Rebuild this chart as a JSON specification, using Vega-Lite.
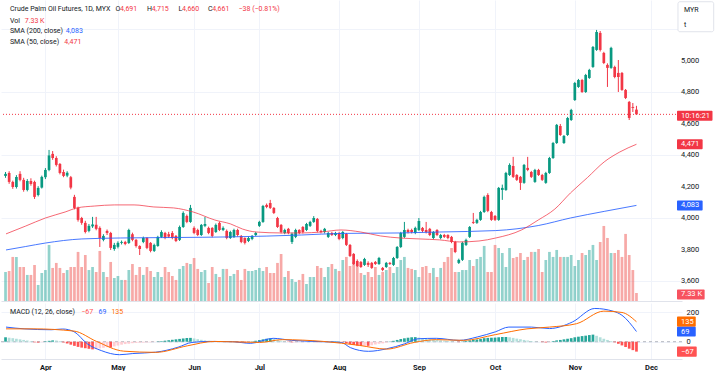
{
"$schema": "https://vega.github.io/schema/vega-lite/v6.json",
"padding": 0,
"background": "white",
"spacing": 2,
"config": {"view": {"stroke": null}, "font": "Roboto", "text": {"font": "Roboto"}, "axis": {"labelOverlap": false, "labelBound": false, "labelFlush": false}},
"datasets": {
"bars": [
{"i":-11,"o":4270,"h":4295,"l":4258,"c":4283,"v":26.6,"hs":30},
{"i":-10,"o":4289,"h":4300,"l":4220,"c":4232,"v":27.5,"hs":27},
{"i":-9,"o":4232,"h":4240,"l":4188,"c":4200,"v":40.4,"hs":24},
{"i":-8,"o":4200,"h":4275,"l":4190,"c":4264,"v":40.4,"hs":20},
{"i":-7,"o":4283,"h":4300,"l":4236,"c":4245,"v":31.2,"hs":16},
{"i":-6,"o":4245,"h":4258,"l":4170,"c":4181,"v":31.2,"hs":12},
{"i":-5,"o":4181,"h":4250,"l":4172,"c":4238,"v":23.9,"hs":8},
{"i":-4,"o":4238,"h":4255,"l":4208,"c":4219,"v":23.9,"hs":4},
{"i":-3,"o":4232,"h":4240,"l":4124,"c":4137,"v":33.0,"hs":-4},
{"i":-2,"o":4149,"h":4205,"l":4140,"c":4194,"v":14.7,"hs":-6},
{"i":-1,"o":4196,"h":4272,"l":4190,"c":4264,"v":25.7,"hs":-3},
{"i":0,"o":4262,"h":4320,"l":4250,"c":4308,"v":28.4,"hs":3},
{"i":1,"o":4308,"h":4435,"l":4300,"c":4400,"v":51.4,"hs":6},
{"i":2,"o":4410,"h":4428,"l":4372,"c":4384,"v":30.3,"hs":9},
{"i":3,"o":4384,"h":4395,"l":4330,"c":4340,"v":34.9,"hs":8},
{"i":4,"o":4346,"h":4352,"l":4280,"c":4289,"v":30.3,"hs":5},
{"i":5,"o":4295,"h":4310,"l":4262,"c":4270,"v":25.7,"hs":-5},
{"i":6,"o":4272,"h":4300,"l":4262,"c":4290,"v":28.4,"hs":-12},
{"i":7,"o":4262,"h":4270,"l":4185,"c":4196,"v":31.2,"hs":-20},
{"i":8,"o":4137,"h":4150,"l":4058,"c":4067,"v":31.2,"hs":-28},
{"i":9,"o":4067,"h":4075,"l":3980,"c":3991,"v":45.0,"hs":-35},
{"i":10,"o":4003,"h":4010,"l":3960,"c":3972,"v":31.2,"hs":-40},
{"i":11,"o":3972,"h":3985,"l":3905,"c":3914,"v":42.2,"hs":-44},
{"i":12,"o":3921,"h":3965,"l":3912,"c":3953,"v":28.4,"hs":-48},
{"i":13,"o":3950,"h":4010,"l":3940,"c":3962,"v":31.2,"hs":-52},
{"i":14,"o":3960,"h":4010,"l":3925,"c":3934,"v":26.6,"hs":-49},
{"i":15,"o":3940,"h":3950,"l":3819,"c":3876,"v":45.9,"hs":-45},
{"i":16,"o":3864,"h":3900,"l":3855,"c":3889,"v":26.6,"hs":-41},
{"i":17,"o":3921,"h":3930,"l":3895,"c":3908,"v":22.0,"hs":-37},
{"i":18,"o":3908,"h":3915,"l":3800,"c":3813,"v":35.8,"hs":-39},
{"i":19,"o":3806,"h":3845,"l":3795,"c":3832,"v":21.1,"hs":-32},
{"i":20,"o":3820,"h":3855,"l":3810,"c":3845,"v":22.9,"hs":-26},
{"i":21,"o":3845,"h":3860,"l":3835,"c":3851,"v":19.3,"hs":-20},
{"i":22,"o":3851,"h":3858,"l":3830,"c":3838,"v":19.3,"hs":-16},
{"i":23,"o":3845,"h":3935,"l":3838,"c":3927,"v":28.4,"hs":-13},
{"i":24,"o":3900,"h":3910,"l":3855,"c":3864,"v":33.9,"hs":-10},
{"i":25,"o":3864,"h":3870,"l":3815,"c":3825,"v":23.9,"hs":-8},
{"i":26,"o":3825,"h":3830,"l":3768,"c":3806,"v":31.2,"hs":-7},
{"i":27,"o":3851,"h":3885,"l":3843,"c":3876,"v":23.9,"hs":-6},
{"i":28,"o":3876,"h":3882,"l":3805,"c":3813,"v":31.2,"hs":-5},
{"i":29,"o":3845,"h":3850,"l":3785,"c":3794,"v":27.5,"hs":-4},
{"i":30,"o":3794,"h":3840,"l":3787,"c":3832,"v":22.0,"hs":-2},
{"i":31,"o":3825,"h":3890,"l":3820,"c":3883,"v":26.6,"hs":2},
{"i":32,"o":3883,"h":3925,"l":3876,"c":3914,"v":22.0,"hs":4},
{"i":33,"o":3908,"h":3915,"l":3868,"c":3876,"v":31.2,"hs":7},
{"i":34,"o":3900,"h":3915,"l":3876,"c":3885,"v":26.6,"hs":10},
{"i":35,"o":3908,"h":3920,"l":3868,"c":3876,"v":22.9,"hs":13},
{"i":36,"o":3889,"h":3895,"l":3850,"c":3857,"v":19.3,"hs":16},
{"i":37,"o":3864,"h":3955,"l":3857,"c":3946,"v":29.4,"hs":19},
{"i":38,"o":3946,"h":4045,"l":3940,"c":4035,"v":32.1,"hs":22},
{"i":39,"o":4016,"h":4025,"l":3970,"c":3978,"v":34.9,"hs":25},
{"i":40,"o":3978,"h":4086,"l":3972,"c":4067,"v":33.9,"hs":26},
{"i":41,"o":3940,"h":3950,"l":3900,"c":3908,"v":39.4,"hs":22},
{"i":42,"o":3927,"h":3935,"l":3888,"c":3895,"v":29.4,"hs":17},
{"i":43,"o":3895,"h":3965,"l":3889,"c":3959,"v":26.6,"hs":13},
{"i":44,"o":3953,"h":4010,"l":3945,"c":3965,"v":28.4,"hs":9},
{"i":45,"o":3940,"h":3948,"l":3900,"c":3908,"v":16.5,"hs":6},
{"i":46,"o":3940,"h":3945,"l":3880,"c":3889,"v":31.2,"hs":3},
{"i":47,"o":3914,"h":3968,"l":3908,"c":3959,"v":24.8,"hs":1},
{"i":48,"o":3972,"h":3980,"l":3920,"c":3927,"v":22.0,"hs":-1},
{"i":49,"o":3927,"h":3950,"l":3920,"c":3940,"v":29.4,"hs":-2},
{"i":50,"o":3921,"h":3930,"l":3868,"c":3876,"v":29.4,"hs":1},
{"i":51,"o":3876,"h":3922,"l":3870,"c":3914,"v":22.9,"hs":2},
{"i":52,"o":3883,"h":3935,"l":3876,"c":3927,"v":24.8,"hs":-2},
{"i":53,"o":3927,"h":3935,"l":3885,"c":3895,"v":28.4,"hs":-4},
{"i":54,"o":3889,"h":3895,"l":3843,"c":3851,"v":19.3,"hs":-6},
{"i":55,"o":3876,"h":3880,"l":3835,"c":3845,"v":29.4,"hs":-7},
{"i":56,"o":3857,"h":3885,"l":3850,"c":3876,"v":27.5,"hs":-5},
{"i":57,"o":3870,"h":3895,"l":3862,"c":3889,"v":27.5,"hs":2},
{"i":58,"o":3895,"h":3915,"l":3889,"c":3908,"v":28.4,"hs":6},
{"i":59,"o":3953,"h":3985,"l":3946,"c":3978,"v":30.3,"hs":11},
{"i":60,"o":3978,"h":4086,"l":3972,"c":4079,"v":27.5,"hs":16},
{"i":61,"o":4086,"h":4095,"l":4065,"c":4073,"v":31.2,"hs":20},
{"i":62,"o":4098,"h":4118,"l":4060,"c":4067,"v":25.7,"hs":22},
{"i":63,"o":4067,"h":4072,"l":4028,"c":4035,"v":25.7,"hs":18},
{"i":64,"o":4003,"h":4010,"l":3940,"c":3946,"v":34.9,"hs":12},
{"i":65,"o":3959,"h":3965,"l":3905,"c":3914,"v":43.1,"hs":6},
{"i":66,"o":3908,"h":3935,"l":3900,"c":3927,"v":22.0,"hs":2},
{"i":67,"o":3934,"h":3940,"l":3900,"c":3908,"v":27.5,"hs":-2},
{"i":68,"o":3851,"h":3910,"l":3838,"c":3902,"v":20.2,"hs":-4},
{"i":69,"o":3883,"h":3935,"l":3875,"c":3927,"v":17.4,"hs":-4},
{"i":70,"o":3927,"h":3932,"l":3900,"c":3908,"v":19.3,"hs":-3},
{"i":71,"o":3946,"h":3952,"l":3905,"c":3914,"v":24.8,"hs":-3},
{"i":72,"o":3927,"h":3972,"l":3920,"c":3965,"v":15.6,"hs":-2},
{"i":73,"o":3953,"h":3985,"l":3946,"c":3978,"v":22.0,"hs":-2},
{"i":74,"o":3978,"h":4015,"l":3972,"c":4003,"v":22.0,"hs":-1},
{"i":75,"o":3997,"h":4003,"l":3912,"c":3921,"v":32.1,"hs":-3},
{"i":76,"o":3921,"h":3928,"l":3905,"c":3914,"v":30.3,"hs":-2},
{"i":77,"o":3914,"h":3940,"l":3905,"c":3934,"v":22.0,"hs":-1},
{"i":78,"o":3883,"h":3915,"l":3876,"c":3908,"v":31.2,"hs":1},
{"i":79,"o":3908,"h":3915,"l":3889,"c":3895,"v":33.9,"hs":2},
{"i":80,"o":3895,"h":3915,"l":3888,"c":3908,"v":29.4,"hs":3},
{"i":81,"o":3908,"h":3915,"l":3862,"c":3870,"v":27.5,"hs":2},
{"i":82,"o":3876,"h":3920,"l":3868,"c":3914,"v":37.6,"hs":-3},
{"i":83,"o":3902,"h":3908,"l":3825,"c":3832,"v":40.4,"hs":-9},
{"i":84,"o":3832,"h":3838,"l":3755,"c":3762,"v":32.1,"hs":-16},
{"i":85,"o":3775,"h":3780,"l":3705,"c":3711,"v":35.8,"hs":-22},
{"i":86,"o":3730,"h":3740,"l":3692,"c":3699,"v":33.0,"hs":-26},
{"i":87,"o":3724,"h":3730,"l":3686,"c":3692,"v":25.7,"hs":-28},
{"i":88,"o":3705,"h":3750,"l":3699,"c":3743,"v":23.9,"hs":-27},
{"i":89,"o":3718,"h":3728,"l":3692,"c":3705,"v":26.6,"hs":-28},
{"i":90,"o":3718,"h":3724,"l":3680,"c":3686,"v":22.0,"hs":-24},
{"i":91,"o":3724,"h":3730,"l":3705,"c":3711,"v":31.2,"hs":-19},
{"i":92,"o":3711,"h":3756,"l":3705,"c":3749,"v":23.9,"hs":-14},
{"i":93,"o":3686,"h":3692,"l":3665,"c":3673,"v":26.6,"hs":-11},
{"i":94,"o":3692,"h":3724,"l":3686,"c":3718,"v":28.4,"hs":-6},
{"i":95,"o":3718,"h":3724,"l":3705,"c":3711,"v":31.2,"hs":2},
{"i":96,"o":3705,"h":3756,"l":3699,"c":3749,"v":25.7,"hs":6},
{"i":97,"o":3749,"h":3825,"l":3743,"c":3819,"v":31.2,"hs":12},
{"i":98,"o":3819,"h":3915,"l":3812,"c":3908,"v":37.6,"hs":18},
{"i":99,"o":3883,"h":3978,"l":3876,"c":3927,"v":40.4,"hs":23},
{"i":100,"o":3927,"h":3935,"l":3905,"c":3914,"v":30.3,"hs":27},
{"i":101,"o":3927,"h":3935,"l":3905,"c":3914,"v":29.4,"hs":30},
{"i":102,"o":3908,"h":3948,"l":3900,"c":3940,"v":28.4,"hs":31},
{"i":103,"o":3927,"h":4003,"l":3920,"c":3984,"v":22.0,"hs":28},
{"i":104,"o":3940,"h":3946,"l":3912,"c":3921,"v":31.2,"hs":24},
{"i":105,"o":3927,"h":3978,"l":3905,"c":3914,"v":32.1,"hs":20},
{"i":106,"o":3934,"h":3940,"l":3888,"c":3895,"v":25.7,"hs":16},
{"i":107,"o":3876,"h":3920,"l":3868,"c":3914,"v":30.3,"hs":13},
{"i":108,"o":3927,"h":3932,"l":3888,"c":3895,"v":22.0,"hs":11},
{"i":109,"o":3876,"h":3902,"l":3868,"c":3895,"v":30.3,"hs":9},
{"i":110,"o":3895,"h":3902,"l":3876,"c":3883,"v":35.8,"hs":7},
{"i":111,"o":3895,"h":3900,"l":3868,"c":3876,"v":40.4,"hs":5},
{"i":112,"o":3883,"h":3889,"l":3843,"c":3851,"v":48.6,"hs":3},
{"i":113,"o":3851,"h":3858,"l":3780,"c":3787,"v":26.6,"hs":1},
{"i":114,"o":3718,"h":3745,"l":3711,"c":3737,"v":26.6,"hs":-3},
{"i":115,"o":3737,"h":3852,"l":3730,"c":3845,"v":28.4,"hs":2},
{"i":116,"o":3832,"h":3872,"l":3825,"c":3864,"v":28.4,"hs":5},
{"i":117,"o":3883,"h":3952,"l":3876,"c":3946,"v":37.6,"hs":9},
{"i":118,"o":3978,"h":4035,"l":3965,"c":3972,"v":32.1,"hs":12},
{"i":119,"o":3972,"h":3998,"l":3965,"c":3991,"v":38.5,"hs":15},
{"i":120,"o":3991,"h":4048,"l":3985,"c":4041,"v":40.4,"hs":19},
{"i":121,"o":4041,"h":4145,"l":4035,"c":4137,"v":50.5,"hs":24},
{"i":122,"o":4149,"h":4160,"l":4040,"c":4048,"v":26.6,"hs":26},
{"i":123,"o":4041,"h":4048,"l":3985,"c":3991,"v":26.6,"hs":27},
{"i":124,"o":4016,"h":4022,"l":3984,"c":3991,"v":51.4,"hs":28},
{"i":125,"o":3991,"h":4200,"l":3985,"c":4194,"v":48.6,"hs":30},
{"i":126,"o":4181,"h":4215,"l":4118,"c":4194,"v":44.0,"hs":32},
{"i":127,"o":4181,"h":4296,"l":4175,"c":4289,"v":31.2,"hs":32},
{"i":128,"o":4276,"h":4350,"l":4270,"c":4340,"v":48.6,"hs":30},
{"i":129,"o":4333,"h":4391,"l":4257,"c":4264,"v":39.4,"hs":26},
{"i":130,"o":4276,"h":4282,"l":4238,"c":4245,"v":40.4,"hs":21},
{"i":131,"o":4264,"h":4270,"l":4181,"c":4226,"v":44.0,"hs":17},
{"i":132,"o":4226,"h":4346,"l":4220,"c":4340,"v":37.6,"hs":12},
{"i":133,"o":4321,"h":4391,"l":4300,"c":4308,"v":40.4,"hs":8},
{"i":134,"o":4295,"h":4302,"l":4257,"c":4264,"v":45.0,"hs":5},
{"i":135,"o":4232,"h":4315,"l":4226,"c":4308,"v":45.0,"hs":2},
{"i":136,"o":4308,"h":4315,"l":4270,"c":4276,"v":47.7,"hs":0.5},
{"i":137,"o":4276,"h":4283,"l":4238,"c":4245,"v":26.6,"hs":-3},
{"i":138,"o":4226,"h":4296,"l":4220,"c":4289,"v":37.6,"hs":-5},
{"i":139,"o":4289,"h":4391,"l":4283,"c":4384,"v":45.0,"hs":-3},
{"i":140,"o":4384,"h":4486,"l":4378,"c":4479,"v":40.4,"hs":4},
{"i":141,"o":4479,"h":4600,"l":4473,"c":4594,"v":46.8,"hs":9},
{"i":142,"o":4587,"h":4600,"l":4524,"c":4530,"v":40.4,"hs":12},
{"i":143,"o":4479,"h":4530,"l":4473,"c":4524,"v":40.4,"hs":16},
{"i":144,"o":4530,"h":4645,"l":4524,"c":4638,"v":40.4,"hs":20},
{"i":145,"o":4625,"h":4696,"l":4619,"c":4689,"v":42.2,"hs":24},
{"i":146,"o":4752,"h":4867,"l":4746,"c":4860,"v":32.1,"hs":30},
{"i":147,"o":4835,"h":4886,"l":4829,"c":4879,"v":37.6,"hs":34},
{"i":148,"o":4879,"h":4886,"l":4797,"c":4803,"v":44.0,"hs":38},
{"i":149,"o":4803,"h":4918,"l":4797,"c":4911,"v":42.2,"hs":41},
{"i":150,"o":4892,"h":4950,"l":4886,"c":4943,"v":46.8,"hs":45},
{"i":151,"o":4962,"h":5095,"l":4956,"c":5089,"v":51.4,"hs":48},
{"i":152,"o":5070,"h":5197,"l":5064,"c":5184,"v":37.6,"hs":40},
{"i":153,"o":5178,"h":5190,"l":5060,"c":5070,"v":54.1,"hs":30},
{"i":154,"o":5051,"h":5058,"l":4980,"c":4987,"v":68.8,"hs":20},
{"i":155,"o":4975,"h":4985,"l":4835,"c":4956,"v":57.8,"hs":12},
{"i":156,"o":4956,"h":5090,"l":4950,"c":5083,"v":44.0,"hs":5},
{"i":157,"o":4962,"h":4970,"l":4890,"c":4898,"v":44.0,"hs":-4},
{"i":158,"o":4924,"h":5006,"l":4803,"c":4898,"v":46.8,"hs":-14},
{"i":159,"o":4924,"h":4930,"l":4810,"c":4816,"v":40.4,"hs":-25},
{"i":160,"o":4816,"h":4822,"l":4758,"c":4765,"v":61.5,"hs":-36},
{"i":161,"o":4740,"h":4746,"l":4625,"c":4638,"v":42.2,"hs":-47},
{"i":162,"o":4708,"h":4733,"l":4676,"c":4702,"v":28.4,"hs":-57},
{"i":163,"o":4691,"h":4715,"l":4660,"c":4661,"v":7.33,"hs":-67}
],
"sma50": [
{"i":-10.87,"v":3902},{"i":-5.43,"v":3952},{"i":0,"v":4003},{"i":5.43,"v":4041},{"i":8.7,"v":4067},{"i":13.59,"v":4079},{"i":19.02,"v":4086},{"i":24.46,"v":4086},{"i":29.89,"v":4073},{"i":35.33,"v":4067},{"i":40.76,"v":4041},{"i":46.74,"v":3990},{"i":51.09,"v":3965},{"i":54.35,"v":3933},{"i":58.15,"v":3914},{"i":65.22,"v":3908},{"i":70.65,"v":3908},{"i":76.09,"v":3914},{"i":81.52,"v":3927},{"i":86.96,"v":3914},{"i":92.39,"v":3889},{"i":97.83,"v":3876},{"i":103.26,"v":3870},{"i":108.7,"v":3864},{"i":114.13,"v":3851},{"i":119.57,"v":3857},{"i":124.2,"v":3876},{"i":131.3,"v":3927},{"i":135.9,"v":3990},{"i":140.5,"v":4060},{"i":144.8,"v":4162},{"i":149.5,"v":4260},{"i":154.1,"v":4359},{"i":158.4,"v":4422},{"i":163,"v":4471}
],
"sma200": [
{"i":-10.87,"v":3800},{"i":-5.43,"v":3822},{"i":0,"v":3844},{"i":10.05,"v":3870},{"i":20.65,"v":3876},{"i":35.33,"v":3879},{"i":51.09,"v":3883},{"i":70.65,"v":3895},{"i":81.52,"v":3905},{"i":97.83,"v":3908},{"i":108.7,"v":3914},{"i":124.2,"v":3923},{"i":135.9,"v":3955},{"i":144.8,"v":4003},{"i":154.1,"v":4045},{"i":163,"v":4083}
],
"macd": [
{"i":-10.87,"v":99},{"i":-5.87,"v":87},{"i":1.63,"v":81},{"i":4.75,"v":86},{"i":7.88,"v":68},{"i":11.6,"v":-15},{"i":15.4,"v":-60},{"i":20.4,"v":-88},{"i":24.1,"v":-80},{"i":30.4,"v":-71},{"i":36.6,"v":-37},{"i":40.4,"v":-5},{"i":45.4,"v":2},{"i":51.6,"v":0},{"i":56.6,"v":-11},{"i":62.8,"v":23},{"i":67.9,"v":9},{"i":76.6,"v":0},{"i":81.6,"v":-5},{"i":84.1,"v":-40},{"i":89.1,"v":-65},{"i":94.1,"v":-48},{"i":99.1,"v":-14},{"i":102.8,"v":20},{"i":107.8,"v":23},{"i":114.1,"v":9},{"i":119.1,"v":32},{"i":124.1,"v":67},{"i":127.8,"v":99},{"i":134,"v":99},{"i":139,"v":89},{"i":145.3,"v":133},{"i":151.5,"v":225},{"i":156.5,"v":207},{"i":159,"v":179},{"i":163,"v":69}
],
"signal": [
{"i":-10.87,"v":87},{"i":-3.4,"v":87},{"i":7.88,"v":72},{"i":14.1,"v":2},{"i":21.6,"v":-64},{"i":30.4,"v":-72},{"i":39.1,"v":-28},{"i":46.6,"v":2},{"i":59.1,"v":-5},{"i":65.3,"v":14},{"i":76.6,"v":2},{"i":86.6,"v":-25},{"i":94.1,"v":-50},{"i":101.7,"v":-5},{"i":107.8,"v":14},{"i":115.3,"v":9},{"i":124.1,"v":48},{"i":132.8,"v":87},{"i":139,"v":99},{"i":146.5,"v":122},{"i":154,"v":207},{"i":159,"v":198},{"i":163,"v":135}
],
"priceticks": [
{"p":3600},{"p":3800},{"p":4000},{"p":4200},{"p":4400},{"p":4600},{"p":4800},{"p":5000}
]
},
"vconcat": [
{
"width": 681, "height": 301,
"resolve": {"scale": {"y": "independent"}},
"layer": [
{
"layer": [
{
"data": {"name": "bars"},
"mark": {"type": "bar", "width": 2.7, "clip": true, "opacity": 0.5},
"encoding": {
"x": {"field": "i", "type": "quantitative", "scale": {"domain": [-10.87, 174.18], "nice": false, "zero": false},
 "axis": {"orient": "bottom", "values": [0,20,41,59,81,103,124,146,167], "labels": false, "ticks": false, "domain": true, "domainColor": "#e0e3eb", "grid": true, "gridColor": "#f0f3fa", "title": null}},
"y": {"field": "v", "type": "quantitative", "scale": {"domain": [0, 276], "nice": false}, "axis": null},
"color": {"condition": {"test": "datum.c >= datum.o", "value": "#26a69a"}, "value": "#ef5350"}
}
},
{
"data": {"values": [{"t": "Crude Palm Oil Futures, 1D, MYX"}]},
"mark": {"type": "text", "align": "left", "baseline": "middle", "fontSize": 7, "color": "#131722"},
"encoding": {"x": {"datum": -9.78}, "y": {"datum": 267.7, "axis": null}, "text": {"field": "t"}}
},
{
"data": {"values": [{"t": "O"}]},
"mark": {"type": "text", "align": "left", "baseline": "middle", "fontSize": 7, "color": "#131722"},
"encoding": {"x": {"datum": 19.3}, "y": {"datum": 267.7, "axis": null}, "text": {"field": "t"}}
},
{
"data": {"values": [{"t": "4,691"}]},
"mark": {"type": "text", "align": "left", "baseline": "middle", "fontSize": 7, "color": "#F23645"},
"encoding": {"x": {"datum": 20.6}, "y": {"datum": 267.7, "axis": null}, "text": {"field": "t"}}
},
{
"data": {"values": [{"t": "H"}]},
"mark": {"type": "text", "align": "left", "baseline": "middle", "fontSize": 7, "color": "#131722"},
"encoding": {"x": {"datum": 27.99}, "y": {"datum": 267.7, "axis": null}, "text": {"field": "t"}}
},
{
"data": {"values": [{"t": "4,715"}]},
"mark": {"type": "text", "align": "left", "baseline": "middle", "fontSize": 7, "color": "#F23645"},
"encoding": {"x": {"datum": 29.3}, "y": {"datum": 267.7, "axis": null}, "text": {"field": "t"}}
},
{
"data": {"values": [{"t": "L"}]},
"mark": {"type": "text", "align": "left", "baseline": "middle", "fontSize": 7, "color": "#131722"},
"encoding": {"x": {"datum": 36.68}, "y": {"datum": 267.7, "axis": null}, "text": {"field": "t"}}
},
{
"data": {"values": [{"t": "4,660"}]},
"mark": {"type": "text", "align": "left", "baseline": "middle", "fontSize": 7, "color": "#F23645"},
"encoding": {"x": {"datum": 37.7}, "y": {"datum": 267.7, "axis": null}, "text": {"field": "t"}}
},
{
"data": {"values": [{"t": "C"}]},
"mark": {"type": "text", "align": "left", "baseline": "middle", "fontSize": 7, "color": "#131722"},
"encoding": {"x": {"datum": 44.84}, "y": {"datum": 267.7, "axis": null}, "text": {"field": "t"}}
},
{
"data": {"values": [{"t": "4,661"}]},
"mark": {"type": "text", "align": "left", "baseline": "middle", "fontSize": 7, "color": "#F23645"},
"encoding": {"x": {"datum": 46.0}, "y": {"datum": 267.7, "axis": null}, "text": {"field": "t"}}
},
{
"data": {"values": [{"t": "−38 (−0.81%)"}]},
"mark": {"type": "text", "align": "left", "baseline": "middle", "fontSize": 7, "color": "#F23645"},
"encoding": {"x": {"datum": 53.26}, "y": {"datum": 267.7, "axis": null}, "text": {"field": "t"}}
},
{
"data": {"values": [{"t": "Vol"}]},
"mark": {"type": "text", "align": "left", "baseline": "middle", "fontSize": 7, "color": "#131722"},
"encoding": {"x": {"datum": -9.78}, "y": {"datum": 257.0, "axis": null}, "text": {"field": "t"}}
},
{
"data": {"values": [{"t": "7.33 K"}]},
"mark": {"type": "text", "align": "left", "baseline": "middle", "fontSize": 7, "color": "#F23645"},
"encoding": {"x": {"datum": -5.71}, "y": {"datum": 257.0, "axis": null}, "text": {"field": "t"}}
},
{
"data": {"values": [{"t": "SMA (200, close)"}]},
"mark": {"type": "text", "align": "left", "baseline": "middle", "fontSize": 7, "color": "#131722"},
"encoding": {"x": {"datum": -9.78}, "y": {"datum": 247.5, "axis": null}, "text": {"field": "t"}}
},
{
"data": {"values": [{"t": "4,083"}]},
"mark": {"type": "text", "align": "left", "baseline": "middle", "fontSize": 7, "color": "#2962FF"},
"encoding": {"x": {"datum": 5.6}, "y": {"datum": 247.5, "axis": null}, "text": {"field": "t"}}
},
{
"data": {"values": [{"t": "SMA (50, close)"}]},
"mark": {"type": "text", "align": "left", "baseline": "middle", "fontSize": 7, "color": "#131722"},
"encoding": {"x": {"datum": -9.78}, "y": {"datum": 237.7, "axis": null}, "text": {"field": "t"}}
},
{
"data": {"values": [{"t": "4,471"}]},
"mark": {"type": "text", "align": "left", "baseline": "middle", "fontSize": 7, "color": "#F23645"},
"encoding": {"x": {"datum": 5.2}, "y": {"datum": 237.7, "axis": null}, "text": {"field": "t"}}
},
{
"data": {"values": [{"t": "MYR"}]},
"mark": {"type": "rect", "fill": "white", "stroke": "#e0e3eb", "strokeWidth": 1, "cornerRadius": 2},
"encoding": {"x": {"datum": 174.45}, "x2": {"datum": 184.3}, "y": {"datum": 274.4, "axis": null}, "y2": {"datum": 246.9}}
},
{
"data": {"values": [{"t": "MYR"}]},
"mark": {"type": "text", "align": "left", "baseline": "middle", "fontSize": 7, "color": "#131722"},
"encoding": {"x": {"datum": 176.1}, "y": {"datum": 266.8, "axis": null}, "text": {"field": "t"}}
},
{
"data": {"values": [{"t": "t"}]},
"mark": {"type": "text", "align": "left", "baseline": "middle", "fontSize": 7, "color": "#131722"},
"encoding": {"x": {"datum": 176.1}, "y": {"datum": 253.1, "axis": null}, "text": {"field": "t"}}
},
{
"data": {"values": [{"t": "10:16:21"}]},
"mark": {"type": "rect", "color": "#F23645", "cornerRadius": 1},
"encoding": {"x": {"datum": 174.18}, "x2": {"datum": 183.97}, "y": {"datum": 165.2, "axis": null}, "y2": {"datum": 174.4}}
},
{
"data": {"values": [{"t": "10:16:21"}]},
"mark": {"type": "text", "align": "left", "baseline": "middle", "fontSize": 7.5, "color": "white"},
"encoding": {"x": {"datum": 175.27}, "y": {"datum": 169.8, "axis": null}, "text": {"field": "t"}}
},
{
"data": {"values": [{"t": "4,471"}]},
"mark": {"type": "rect", "color": "#F23645", "cornerRadius": 1},
"encoding": {"x": {"datum": 174.18}, "x2": {"datum": 181.25}, "y": {"datum": 139.1, "axis": null}, "y2": {"datum": 148.3}}
},
{
"data": {"values": [{"t": "4,471"}]},
"mark": {"type": "text", "align": "left", "baseline": "middle", "fontSize": 7.5, "color": "white"},
"encoding": {"x": {"datum": 175.27}, "y": {"datum": 143.7, "axis": null}, "text": {"field": "t"}}
},
{
"data": {"values": [{"t": "4,083"}]},
"mark": {"type": "rect", "color": "#2962FF", "cornerRadius": 1},
"encoding": {"x": {"datum": 174.18}, "x2": {"datum": 181.25}, "y": {"datum": 83.0, "axis": null}, "y2": {"datum": 92.2}}
},
{
"data": {"values": [{"t": "4,083"}]},
"mark": {"type": "text", "align": "left", "baseline": "middle", "fontSize": 7.5, "color": "white"},
"encoding": {"x": {"datum": 175.27}, "y": {"datum": 87.6, "axis": null}, "text": {"field": "t"}}
},
{
"data": {"values": [{"t": "7.33 K"}]},
"mark": {"type": "rect", "color": "#F7525F", "cornerRadius": 1},
"encoding": {"x": {"datum": 174.18}, "x2": {"datum": 181.8}, "y": {"datum": 1.4, "axis": null}, "y2": {"datum": 10.6}}
},
{
"data": {"values": [{"t": "7.33 K"}]},
"mark": {"type": "text", "align": "left", "baseline": "middle", "fontSize": 7.5, "color": "white"},
"encoding": {"x": {"datum": 175.27}, "y": {"datum": 6.0, "axis": null}, "text": {"field": "t"}}
}
]
},
{
"layer": [
{
"data": {"name": "bars"},
"mark": {"type": "rule", "clip": true, "strokeWidth": 1},
"encoding": {
"x": {"field": "i", "type": "quantitative"},
"y": {"field": "l", "type": "quantitative", "scale": {"domain": [3476, 5387], "nice": false, "zero": false},
 "axis": {"orient": "right", "values": [3600,3800,4000,4200,4400,4600,4800,5000,5200], "labels": false, "grid": true, "gridColor": "#f0f3fa", "domain": false, "ticks": false, "title": null, "zindex": 0}},
"y2": {"field": "h"},
"color": {"condition": {"test": "datum.c >= datum.o", "value": "#089981"}, "value": "#F23645"}
}
},
{
"data": {"name": "bars"},
"mark": {"type": "bar", "width": 2.7, "clip": true},
"encoding": {
"x": {"field": "i", "type": "quantitative"},
"y": {"field": "o", "type": "quantitative"},
"y2": {"field": "c"},
"color": {"condition": {"test": "datum.c >= datum.o", "value": "#089981"}, "value": "#F23645"}
}
},
{
"data": {"name": "sma200"},
"mark": {"type": "line", "clip": true, "color": "#2962FF", "strokeWidth": 1, "opacity": 0.85, "interpolate": "monotone"},
"encoding": {"x": {"field": "i", "type": "quantitative"}, "y": {"field": "v", "type": "quantitative"}}
},
{
"data": {"name": "sma50"},
"mark": {"type": "line", "clip": true, "color": "#F23645", "strokeWidth": 1, "opacity": 0.75, "interpolate": "monotone"},
"encoding": {"x": {"field": "i", "type": "quantitative"}, "y": {"field": "v", "type": "quantitative"}}
},
{
"data": {"values": [{"p": 4661}]},
"mark": {"type": "rule", "color": "#F23645", "strokeDash": [1, 2], "strokeWidth": 1},
"encoding": {"y": {"field": "p", "type": "quantitative"}}
},
{
"data": {"name": "priceticks"},
"mark": {"type": "text", "align": "left", "baseline": "middle", "fontSize": 7.5, "color": "#131722"},
"encoding": {"x": {"datum": 175.27}, "y": {"field": "p", "type": "quantitative"}, "text": {"field": "p", "type": "quantitative", "format": ","}}
}
]
}
]
},
{
"width": 681, "height": 56,
"layer": [
{
"data": {"values": [{"z": 0}]},
"mark": {"type": "rule", "color": "#b2b5be", "strokeDash": [3, 3], "strokeWidth": 1},
"encoding": {"y": {"field": "z", "type": "quantitative", "scale": {"domain": [-117, 262], "nice": false, "zero": false},
 "axis": {"orient": "right", "values": [0, 200], "labelOverlap": false, "grid": true, "gridColor": "#f0f3fa", "domain": false, "ticks": false, "labelPadding": 4, "labelFontSize": 7.5, "labelColor": "#131722", "title": null}}}
},
{
"data": {"name": "bars"},
"transform": [{"window": [{"op": "lag", "field": "hs", "as": "ph"}], "sort": [{"field": "i"}]}],
"mark": {"type": "bar", "width": 2.7, "clip": true},
"encoding": {
"x": {"field": "i", "type": "quantitative", "scale": {"domain": [-10.87, 174.18], "nice": false, "zero": false},
 "axis": {"orient": "bottom", "values": [0,20,41,59,81,103,124,146,167], "labelExpr": "datum.value==0?'Apr':datum.value==20?'May':datum.value==41?'Jun':datum.value==59?'Jul':datum.value==81?'Aug':datum.value==103?'Sep':datum.value==124?'Oct':datum.value==146?'Nov':'Dec'", "ticks": false, "domain": true, "domainColor": "#e0e3eb", "grid": true, "gridColor": "#f0f3fa", "labelFontSize": 7.5, "labelFontWeight": "bold", "labelColor": "#131722", "labelPadding": 4, "title": null}},
"y": {"field": "hs", "type": "quantitative"},
"color": {"condition": [{"test": "datum.hs >= 0 && (datum.ph == null || datum.hs >= datum.ph)", "value": "#26A69A"}, {"test": "datum.hs >= 0", "value": "#B2DFDB"}, {"test": "datum.hs < datum.ph", "value": "#FF5252"}], "value": "#FFCDD2"}
}
},
{
"data": {"name": "macd"},
"mark": {"type": "line", "clip": true, "color": "#2962FF", "strokeWidth": 1, "interpolate": "monotone"},
"encoding": {"x": {"field": "i", "type": "quantitative"}, "y": {"field": "v", "type": "quantitative"}}
},
{
"data": {"name": "signal"},
"mark": {"type": "line", "clip": true, "color": "#FF6D00", "strokeWidth": 1, "interpolate": "monotone"},
"encoding": {"x": {"field": "i", "type": "quantitative"}, "y": {"field": "v", "type": "quantitative"}}
},
{
"data": {"values": [{"t": "MACD (12, 26, close)"}]},
"mark": {"type": "text", "align": "left", "baseline": "middle", "fontSize": 7, "color": "#131722"},
"encoding": {"x": {"datum": -9.78}, "y": {"datum": 202}, "text": {"field": "t"}}
},
{
"data": {"values": [{"t": "−67"}]},
"mark": {"type": "text", "align": "left", "baseline": "middle", "fontSize": 7, "color": "#FF5252"},
"encoding": {"x": {"datum": 9.9}, "y": {"datum": 202}, "text": {"field": "t"}}
},
{
"data": {"values": [{"t": "69"}]},
"mark": {"type": "text", "align": "left", "baseline": "middle", "fontSize": 7, "color": "#2962FF"},
"encoding": {"x": {"datum": 14.67}, "y": {"datum": 202}, "text": {"field": "t"}}
},
{
"data": {"values": [{"t": "135"}]},
"mark": {"type": "text", "align": "left", "baseline": "middle", "fontSize": 7, "color": "#FF6D00"},
"encoding": {"x": {"datum": 18.2}, "y": {"datum": 202}, "text": {"field": "t"}}
},
{
"data": {"values": [{"t": "135"}]},
"mark": {"type": "rect", "color": "#FF6D00", "cornerRadius": 1},
"encoding": {"x": {"datum": 174.18}, "x2": {"datum": 179.35}, "y": {"datum": 102}, "y2": {"datum": 170}}
},
{
"data": {"values": [{"t": "135"}]},
"mark": {"type": "text", "align": "left", "baseline": "middle", "fontSize": 7.5, "color": "white"},
"encoding": {"x": {"datum": 175.27}, "y": {"datum": 136}, "text": {"field": "t"}}
},
{
"data": {"values": [{"t": "69"}]},
"mark": {"type": "rect", "color": "#2962FF", "cornerRadius": 1},
"encoding": {"x": {"datum": 174.18}, "x2": {"datum": 179.35}, "y": {"datum": 35}, "y2": {"datum": 102}}
},
{
"data": {"values": [{"t": "69"}]},
"mark": {"type": "text", "align": "left", "baseline": "middle", "fontSize": 7.5, "color": "white"},
"encoding": {"x": {"datum": 175.27}, "y": {"datum": 69}, "text": {"field": "t"}}
},
{
"data": {"values": [{"t": "−67"}]},
"mark": {"type": "rect", "color": "#FF5252", "cornerRadius": 1},
"encoding": {"x": {"datum": 174.18}, "x2": {"datum": 179.62}, "y": {"datum": -101}, "y2": {"datum": -33}}
},
{
"data": {"values": [{"t": "−67"}]},
"mark": {"type": "text", "align": "left", "baseline": "middle", "fontSize": 7.5, "color": "white"},
"encoding": {"x": {"datum": 175.27}, "y": {"datum": -67}, "text": {"field": "t"}}
}
]
}
]
}
